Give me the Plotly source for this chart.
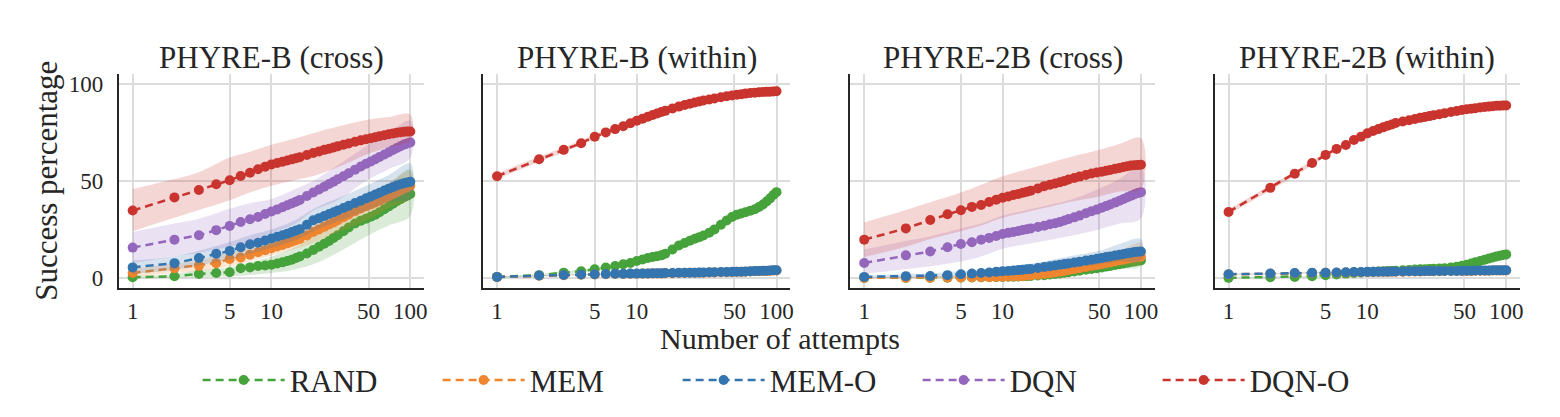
import plotly.graph_objects as go

# attempts at which success is plotted (markers) and where the bands are given
attempts = [1, 2, 3, 4, 5, 6, 7, 8, 9, 10, 11, 12, 13, 14, 15, 16, 18, 20, 22, 24, 26, 28, 30,
            33, 36, 40, 44, 48, 52, 56, 60, 65, 70, 75, 80, 85, 90, 95, 100]
band_attempts = [1, 2, 3, 5, 7, 10, 15, 20, 30, 50, 70, 100]

methods = ['RAND', 'MEM', 'MEM-O', 'DQN', 'DQN-O']
colors = {'RAND': '#46a23a', 'MEM': '#f0852f', 'MEM-O': '#3475b0', 'DQN': '#9467bd', 'DQN-O': '#c9342e'}
panel_titles = ['PHYRE-B (cross)', 'PHYRE-B (within)', 'PHYRE-2B (cross)', 'PHYRE-2B (within)']
x_ticks = [1, 5, 10, 50, 100]
y_ticks = [0, 50, 100]

# ---- PHYRE-B (cross)
b_cross = {
    'RAND': [0.3, 0.8, 2.0, 2.5, 2.9, 5.0, 5.4, 6.1, 6.4, 6.8, 7.4, 8.0, 8.7, 9.4, 10.2, 11.0,
             12.6, 14.4, 16.0, 17.6, 19.0, 20.6, 22.0, 24.0, 26.0, 28.0, 29.5, 30.5, 31.5, 32.6, 33.8,
             35.4, 36.8, 38.2, 39.5, 40.6, 41.6, 42.4, 43.2],
    'MEM': [2.5, 5.0, 6.3, 7.6, 9.7, 10.5, 11.9, 13.2, 14.3, 15.3, 16.2, 17.0, 17.8, 18.6, 19.4, 20.1,
            21.9, 23.7, 25.0, 26.3, 27.5, 28.6, 29.7, 31.3, 32.7, 34.4, 35.8, 36.9, 37.9, 38.9, 39.8,
            41.0, 42.1, 43.1, 44.2, 45.1, 46.0, 46.8, 47.5],
    'MEM-O': [5.4, 7.6, 10.2, 12.4, 13.9, 15.8, 17.3, 18.1, 19.3, 20.3, 21.2, 22.0, 22.8, 23.6, 24.4, 25.1,
              27.4, 29.7, 30.8, 31.9, 32.9, 33.8, 34.7, 36.0, 37.2, 38.6, 39.8, 41.0, 42.0, 43.0, 43.9,
              45.0, 46.0, 46.8, 47.6, 48.3, 48.8, 49.2, 49.5],
    'DQN': [15.6, 19.7, 22.0, 24.6, 26.8, 28.8, 30.2, 31.4, 32.9, 34.2, 35.3, 36.4, 37.4, 38.4, 39.3, 40.2,
            42.2, 44.0, 45.6, 47.0, 48.4, 49.6, 50.8, 52.4, 53.9, 55.8, 57.4, 58.8, 60.0, 61.2, 62.3,
            63.6, 64.8, 65.9, 67.0, 67.9, 68.7, 69.3, 69.8],
    'DQN-O': [34.7, 41.5, 45.3, 48.3, 50.3, 52.5, 54.2, 56.0, 57.3, 58.5, 59.2, 59.9, 60.5, 61.1, 61.7, 62.2,
              63.3, 64.4, 65.2, 66.0, 66.6, 67.2, 67.8, 68.6, 69.3, 70.2, 70.9, 71.5, 72.0, 72.5, 73.0,
              73.5, 74.0, 74.4, 74.8, 75.1, 75.3, 75.4, 75.5],
}
b_cross_lo = {
    'RAND': [0.0, 0.0, 0.3, 0.8, 1.5, 2.5, 4.5, 7.0, 13.0, 22.0, 27.0, 32.0],
    'MEM': [0.5, 2.5, 3.5, 6.0, 8.5, 11.5, 15.0, 18.0, 23.5, 30.0, 36.0, 41.0],
    'MEM-O': [2.0, 4.0, 6.5, 9.5, 12.5, 15.5, 19.5, 24.0, 29.0, 35.0, 39.0, 41.0],
    'DQN': [7.6, 11.0, 13.0, 16.0, 19.0, 23.0, 28.0, 34.7, 40.0, 50.8, 56.0, 62.0],
    'DQN-O': [24.0, 31.0, 35.0, 40.0, 44.0, 47.5, 50.5, 52.5, 57.0, 64.0, 67.5, 71.0],
}
b_cross_hi = {
    'RAND': [1.0, 2.0, 4.0, 5.5, 8.0, 11.0, 16.0, 22.0, 31.0, 40.0, 48.0, 56.0],
    'MEM': [4.5, 7.5, 9.0, 13.5, 15.5, 19.0, 24.0, 29.0, 36.0, 43.0, 49.0, 55.0],
    'MEM-O': [9.0, 11.0, 14.0, 18.5, 22.0, 25.0, 30.0, 35.5, 41.0, 48.0, 53.0, 59.0],
    'DQN': [23.7, 28.0, 30.5, 35.6, 38.5, 40.7, 46.0, 50.0, 58.0, 68.6, 75.0, 81.0],
    'DQN-O': [45.8, 51.0, 54.5, 62.0, 65.0, 68.6, 72.0, 74.6, 78.0, 81.7, 83.0, 84.2],
}

# ---- PHYRE-B (within)
b_within = {
    'RAND': [0.5, 1.4, 2.7, 3.4, 4.4, 5.3, 6.1, 7.0, 7.7, 8.7, 9.5, 10.2, 10.8, 11.2, 11.6, 12.4,
             14.6, 16.7, 18.0, 19.2, 20.2, 21.0, 21.8, 23.3, 25.0, 27.4, 29.6, 31.4, 32.6, 33.2, 33.8,
             34.6, 35.4, 36.5, 37.8, 39.4, 41.0, 42.7, 44.2],
    'MEM': [0.4, 1.1, 1.4, 1.6, 1.8, 1.9, 2.0, 2.0, 2.1, 2.1, 2.2, 2.2, 2.3, 2.3, 2.3, 2.4,
            2.4, 2.5, 2.5, 2.6, 2.6, 2.7, 2.7, 2.8, 2.8, 2.9, 2.9, 3.0, 3.1, 3.1, 3.2,
            3.3, 3.4, 3.5, 3.6, 3.6, 3.7, 3.8, 3.8],
    'MEM-O': [0.5, 1.2, 1.5, 1.7, 1.9, 2.0, 2.1, 2.1, 2.2, 2.2, 2.3, 2.3, 2.4, 2.4, 2.4, 2.5,
              2.5, 2.6, 2.6, 2.7, 2.7, 2.8, 2.8, 2.9, 2.9, 3.0, 3.0, 3.1, 3.2, 3.2, 3.3,
              3.4, 3.5, 3.6, 3.7, 3.7, 3.8, 3.9, 3.9],
    'DQN-O': [52.4, 61.2, 66.0, 69.4, 72.8, 75.0, 76.7, 78.2, 79.7, 81.0, 82.1, 83.1, 84.0, 84.8, 85.5, 86.1,
              87.3, 88.3, 89.1, 89.8, 90.4, 90.9, 91.4, 92.0, 92.5, 93.1, 93.6, 94.0, 94.4, 94.7, 95.0,
              95.3, 95.5, 95.7, 95.8, 95.9, 96.0, 96.1, 96.2],
}
b_within_lo = {
    'RAND': [0.2, 0.9, 2.0, 3.6, 5.2, 7.6, 10.4, 15.3, 20.3, 30.5, 33.8, 42.5],
    'MEM': [0.2, 0.8, 1.1, 1.5, 1.7, 1.8, 2.0, 2.2, 2.4, 2.7, 3.0, 3.4],
    'MEM-O': [0.3, 0.9, 1.2, 1.6, 1.8, 1.9, 2.1, 2.3, 2.5, 2.8, 3.1, 3.5],
    'DQN-O': [51.0, 59.8, 64.7, 71.7, 75.8, 80.2, 84.9, 87.8, 91.0, 94.0, 95.1, 95.8],
}
b_within_hi = {
    'RAND': [0.8, 1.9, 3.4, 5.2, 7.0, 9.8, 12.8, 18.1, 23.3, 33.5, 37.0, 45.9],
    'MEM': [0.6, 1.4, 1.7, 2.1, 2.3, 2.4, 2.6, 2.8, 3.0, 3.3, 3.8, 4.2],
    'MEM-O': [0.7, 1.5, 1.8, 2.2, 2.4, 2.5, 2.7, 2.9, 3.1, 3.4, 3.9, 4.3],
    'DQN-O': [53.8, 62.6, 67.3, 73.9, 77.6, 81.8, 86.1, 88.8, 91.8, 94.8, 95.9, 96.6],
}

# ---- PHYRE-2B (cross)
b2_cross = {
    'RAND': [0.0, 0.0, 0.1, 0.1, 0.2, 0.2, 0.3, 0.3, 0.4, 0.5, 0.6, 0.6, 0.7, 0.8, 0.9, 1.0,
             1.2, 1.4, 1.7, 2.0, 2.3, 2.6, 2.9, 3.3, 3.7, 4.2, 4.6, 5.0, 5.4, 5.8, 6.1,
             6.6, 7.0, 7.4, 7.8, 8.2, 8.5, 8.8, 9.0],
    'MEM': [0.0, 0.1, 0.1, 0.2, 0.2, 0.3, 0.3, 0.4, 0.5, 0.6, 0.7, 0.8, 0.9, 1.0, 1.1, 1.3,
            1.6, 2.0, 2.4, 2.8, 3.2, 3.6, 4.0, 4.5, 5.0, 5.6, 6.2, 6.7, 7.2, 7.7, 8.1,
            8.6, 9.1, 9.5, 9.9, 10.2, 10.5, 10.7, 10.9],
    'MEM-O': [0.5, 0.9, 1.0, 1.4, 1.9, 2.2, 2.5, 2.8, 3.1, 3.4, 3.6, 3.8, 4.0, 4.2, 4.4, 4.6,
              5.1, 5.6, 6.0, 6.4, 6.8, 7.1, 7.4, 7.9, 8.3, 8.9, 9.4, 9.9, 10.3, 10.7, 11.0,
              11.5, 11.9, 12.3, 12.7, 13.0, 13.3, 13.5, 13.6],
    'DQN': [7.7, 11.6, 13.6, 15.8, 17.5, 18.4, 19.7, 20.6, 21.6, 22.6, 23.2, 23.7, 24.2, 24.7, 25.1, 25.5,
            26.2, 26.9, 27.6, 28.2, 28.8, 29.6, 30.3, 31.2, 32.1, 33.3, 34.4, 35.2, 36.2, 37.0, 37.8,
            38.8, 39.8, 40.7, 41.6, 42.4, 43.1, 43.7, 44.2],
    'DQN-O': [19.7, 25.5, 29.8, 32.8, 34.9, 36.6, 37.6, 39.1, 40.3, 41.3, 42.0, 42.7, 43.3, 43.9, 44.4, 44.9,
              46.1, 47.3, 48.0, 48.7, 49.3, 50.0, 50.7, 51.5, 52.2, 53.0, 53.8, 54.3, 54.7, 55.2, 55.6,
              56.2, 56.7, 57.2, 57.6, 57.9, 58.1, 58.2, 58.3],
}
b2_cross_lo = {
    'RAND': [0.0, 0.0, 0.0, 0.0, 0.0, 0.0, 0.2, 0.5, 1.3, 3.0, 4.5, 6.0],
    'MEM': [0.0, 0.0, 0.0, 0.0, 0.0, 0.1, 0.4, 0.8, 1.8, 4.0, 6.0, 7.5],
    'MEM-O': [0.0, 0.2, 0.3, 0.8, 1.2, 1.8, 2.8, 3.5, 5.0, 7.0, 8.5, 9.0],
    'DQN': [2.2, 4.5, 6.0, 8.5, 11.0, 15.0, 17.5, 19.0, 21.5, 25.0, 28.0, 30.6],
    'DQN-O': [10.7, 16.0, 20.0, 24.0, 27.0, 31.0, 34.0, 36.0, 39.0, 42.0, 44.5, 46.0],
}
b2_cross_hi = {
    'RAND': [0.3, 0.4, 0.5, 0.8, 1.0, 1.5, 2.5, 3.0, 5.0, 8.0, 11.0, 13.0],
    'MEM': [0.5, 0.7, 0.8, 1.2, 1.5, 2.0, 3.5, 4.5, 7.0, 10.5, 14.0, 18.0],
    'MEM-O': [1.2, 2.0, 2.2, 3.5, 4.2, 5.5, 7.2, 8.5, 11.0, 14.0, 17.5, 20.0],
    'DQN': [14.6, 19.0, 21.5, 25.5, 28.0, 32.0, 35.0, 37.0, 40.0, 46.0, 51.0, 57.5],
    'DQN-O': [28.6, 35.0, 39.0, 44.0, 48.0, 52.4, 56.0, 58.5, 62.0, 66.0, 69.0, 72.0],
}

# ---- PHYRE-2B (within)
b2_within = {
    'RAND': [0.0, 0.3, 0.5, 0.9, 1.4, 1.8, 2.2, 2.5, 2.8, 3.0, 3.1, 3.3, 3.4, 3.5, 3.6, 3.7,
             3.9, 4.1, 4.3, 4.4, 4.5, 4.6, 4.7, 4.8, 5.0, 5.3, 5.7, 6.2, 6.8, 7.4, 8.0,
             8.7, 9.4, 10.0, 10.5, 11.0, 11.4, 11.8, 12.1],
    'MEM': [1.8, 2.1, 2.4, 2.5, 2.6, 2.7, 2.8, 2.9, 2.9, 3.0, 3.0, 3.1, 3.1, 3.1, 3.2, 3.2,
            3.2, 3.3, 3.3, 3.3, 3.4, 3.4, 3.4, 3.4, 3.5, 3.5, 3.5, 3.6, 3.6, 3.6, 3.7,
            3.7, 3.7, 3.7, 3.8, 3.8, 3.8, 3.8, 3.8],
    'MEM-O': [1.9, 2.2, 2.5, 2.6, 2.7, 2.8, 2.9, 3.0, 3.0, 3.1, 3.1, 3.2, 3.2, 3.2, 3.3, 3.3,
              3.3, 3.4, 3.4, 3.4, 3.5, 3.5, 3.5, 3.5, 3.6, 3.6, 3.6, 3.7, 3.7, 3.7, 3.8,
              3.8, 3.8, 3.8, 3.9, 3.9, 3.9, 3.9, 3.9],
    'DQN-O': [34.0, 46.4, 53.7, 59.2, 63.4, 66.5, 68.5, 71.1, 72.8, 74.5, 75.7, 76.7, 77.6, 78.4, 79.1, 79.8,
              80.6, 81.3, 81.9, 82.5, 83.0, 83.4, 83.8, 84.4, 84.9, 85.5, 86.0, 86.5, 86.9, 87.2, 87.5,
              87.8, 88.1, 88.3, 88.5, 88.7, 88.8, 88.9, 88.9],
}
b2_within_lo = {
    'RAND': [0.0, 0.1, 0.3, 1.0, 1.8, 2.6, 3.2, 3.7, 4.3, 6.5, 8.8, 11.3],
    'MEM': [1.5, 1.8, 2.1, 2.3, 2.5, 2.7, 2.9, 3.0, 3.1, 3.3, 3.4, 3.5],
    'MEM-O': [1.6, 1.9, 2.2, 2.4, 2.6, 2.8, 3.0, 3.1, 3.2, 3.4, 3.5, 3.6],
    'DQN-O': [32.6, 45.0, 52.4, 62.3, 67.6, 73.8, 78.5, 80.8, 83.4, 86.3, 87.7, 88.5],
}
b2_within_hi = {
    'RAND': [0.3, 0.6, 0.8, 1.8, 2.6, 3.4, 4.0, 4.6, 5.2, 8.1, 10.1, 12.9],
    'MEM': [2.1, 2.4, 2.7, 2.9, 3.1, 3.3, 3.5, 3.6, 3.7, 3.9, 4.0, 4.1],
    'MEM-O': [2.2, 2.5, 2.8, 3.0, 3.2, 3.4, 3.6, 3.7, 3.8, 4.0, 4.1, 4.2],
    'DQN-O': [35.4, 47.8, 55.0, 64.5, 69.4, 75.2, 79.7, 81.8, 84.2, 87.1, 88.5, 89.3],
}

panels = [
    (b_cross, b_cross_lo, b_cross_hi),
    (b_within, b_within_lo, b_within_hi),
    (b2_cross, b2_cross_lo, b2_cross_hi),
    (b2_within, b2_within_lo, b2_within_hi),
]

# the page body adds an 8px margin, so the figure is a bit smaller and
# positions below are given in screen pixels, then shifted by OFF
OFF = 8
W, H = 1560 - OFF, 417 - OFF
FONT = 'Liberation Serif, Times New Roman, serif'
INK = '#262626'
GRID = '#dcdcdc'
panel_px = [(119, 425), (484, 792), (852, 1157), (1217, 1523)]
top_px, bottom_px = 73, 289


def px(x):
    return (x - OFF) / W


def py(y):
    return 1 - (y - OFF) / H


def rgba(hex_color, a):
    h = hex_color.lstrip('#')
    return 'rgba(%d,%d,%d,%.2f)' % (int(h[0:2], 16), int(h[2:4], 16), int(h[4:6], 16), a)


fig = go.Figure()

for i, (means, lows, highs) in enumerate(panels):
    xa = 'x' if i == 0 else 'x%d' % (i + 1)
    ya = 'y' if i == 0 else 'y%d' % (i + 1)
    for m in methods:
        if m not in means:
            continue
        c = colors[m]
        fig.add_trace(go.Scatter(
            x=band_attempts + band_attempts[::-1],
            y=highs[m] + lows[m][::-1],
            fill='toself', fillcolor=rgba(c, 0.2), line=dict(width=0, shape='spline'),
            mode='lines', hoverinfo='skip', showlegend=False, xaxis=xa, yaxis=ya))
        fig.add_trace(go.Scatter(
            x=attempts, y=means[m], name=m, mode='lines+markers',
            line=dict(color=c, width=2.5, dash='8px,5px'),
            marker=dict(color=c, size=10),
            showlegend=(i == 0), legendgroup=m, xaxis=xa, yaxis=ya))

layout = dict(
    width=W, height=H,
    margin=dict(l=0, r=0, t=0, b=0),
    paper_bgcolor='white', plot_bgcolor='white',
    font=dict(family=FONT, color=INK, size=22),
    showlegend=True,
    legend=dict(orientation='h', x=px(198), xanchor='left', y=py(383), yanchor='middle',
                font=dict(size=31, family=FONT, color=INK),
                entrywidth=143, entrywidthmode='pixels', itemwidth=82),
)

annotations = []
for i, (x0, x1) in enumerate(panel_px):
    sfx = '' if i == 0 else str(i + 1)
    layout['xaxis' + sfx] = dict(
        domain=[px(x0), px(x1)], anchor='y' + sfx, type='log', range=[-0.1, 2.1],
        tickvals=x_ticks, ticktext=[str(t) for t in x_ticks],
        showline=True, linecolor=INK, linewidth=2, showgrid=True, gridcolor=GRID, gridwidth=1.5,
        zeroline=False, ticks='', ticklabelstandoff=2, tickfont=dict(size=23, family=FONT, color=INK))
    layout['yaxis' + sfx] = dict(
        domain=[py(bottom_px), py(top_px)], anchor='x' + sfx, range=[-5, 105],
        tickvals=y_ticks, showticklabels=(i == 0),
        showline=True, linecolor=INK, linewidth=2, showgrid=True, gridcolor=GRID, gridwidth=1.5,
        zeroline=False, ticks='', ticklabelstandoff=9, tickfont=dict(size=23, family=FONT, color=INK))
    annotations.append(dict(text=panel_titles[i], x=px((x0 + x1) / 2), y=py(56),
                            xref='paper', yref='paper', showarrow=False, xanchor='center', yanchor='middle',
                            font=dict(size=31, family=FONT, color=INK)))

annotations.append(dict(text='Number of attempts', x=px(781), y=py(341), xref='paper', yref='paper',
                        showarrow=False, xanchor='center', yanchor='middle',
                        font=dict(size=30, family=FONT, color=INK)))
annotations.append(dict(text='Success percentage', x=px(47), y=py(181), xref='paper', yref='paper',
                        showarrow=False, xanchor='center', yanchor='middle', textangle=-90,
                        font=dict(size=31, family=FONT, color=INK)))
layout['annotations'] = annotations

fig.update_layout(**layout)
fig.write_html('out.html')
